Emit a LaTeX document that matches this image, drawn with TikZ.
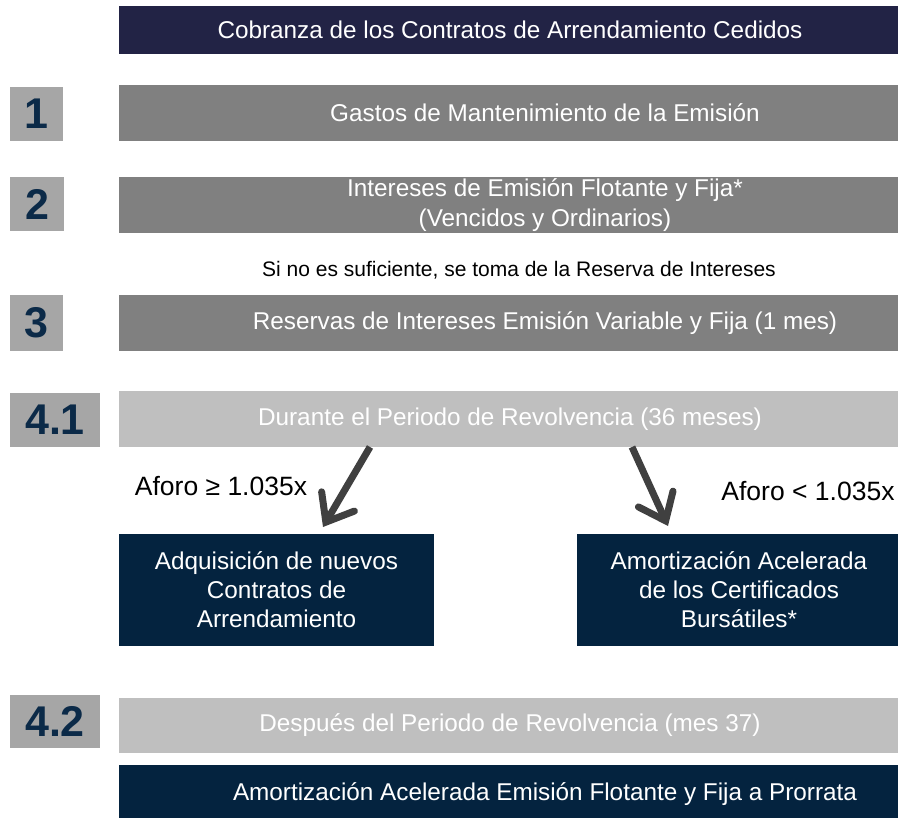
\documentclass[tikz,border=0pt]{standalone}
\usepackage{fontspec}
\setmainfont{Liberation Sans}
\usetikzlibrary{arrows.meta}
\definecolor{topnavy}{HTML}{222345}
\definecolor{midgray}{HTML}{808080}
\definecolor{sqgray}{HTML}{A6A6A6}
\definecolor{lightgraybox}{HTML}{BFBFBF}
\definecolor{darkblue}{HTML}{04233F}
\definecolor{numblue}{HTML}{0B2A48}
\definecolor{arrowgray}{HTML}{404040}
\begin{document}
\begin{tikzpicture}[x=1pt,y=-1pt,
  box/.style={inner sep=0pt, outer sep=0pt, anchor=north west, text=white,
    font=\fontsize{24.3}{29}\selectfont, align=center},
  numsq/.style={fill=sqgray, inner sep=0pt, outer sep=0pt, anchor=north west,
    text=numblue, font=\fontsize{43}{43}\selectfont\bfseries},
  note/.style={inner sep=0pt, text=black, font=\fontsize{21}{25}\selectfont},
  aforo/.style={inner sep=0pt, text=black, font=\fontsize{26.5}{30}\selectfont},
  flowarrow/.style={draw=arrowgray, line width=7pt,
    -{Straight Barb[length=24pt,width=38pt,line cap=round]}}
]
\useasboundingbox (0,0) rectangle (898,818);

% header
\node[box, fill=topnavy, minimum width=782pt, minimum height=48pt] (top) at (119,6)
  {Cobranza de los Contratos de Arrendamiento Cedidos};

% step 1
\node[numsq, minimum width=53pt, minimum height=54pt] (s1) at (10,87) {1};
\node[box, fill=midgray, minimum width=852pt, minimum height=56pt] (b1) at (119,85)
  {Gastos de Mantenimiento de la Emisión};

% step 2
\node[numsq, minimum width=54pt, minimum height=54pt] (s2) at (10,177) {2};
\node[box, fill=midgray, minimum width=852pt, minimum height=56pt,
  font=\fontsize{24.3}{30}\selectfont] (b2) at (119,177)
  {Intereses de Emisión Flotante y Fija*\\(Vencidos y Ordinarios)};

% note
\node[note] (nota) at (519,270) {Si no es suficiente, se toma de la Reserva de Intereses};

% step 3
\node[numsq, minimum width=53pt, minimum height=56pt] (s3) at (10,295) {3};
\node[box, fill=midgray, minimum width=852pt, minimum height=56pt] (b3) at (119,295)
  {Reservas de Intereses Emisión Variable y Fija (1 mes)};

% step 4.1
\node[numsq, minimum width=90pt, minimum height=54pt] (s41) at (10,393) {4.1};
\node[box, fill=lightgraybox, minimum width=782pt, minimum height=56pt] (b41) at (119,391)
  {Durante el Periodo de Revolvencia (36 meses)};

\node[box, fill=darkblue, minimum width=315pt, minimum height=112pt] (left) at (119,534)
  {Adquisición de nuevos\\Contratos de\\Arrendamiento};
\node[box, fill=darkblue, minimum width=324pt, minimum height=112pt] (right) at (577,534)
  {Amortización Acelerada\\de los Certificados\\Bursátiles*};

\node[aforo] (lab1) at (221,486) {Aforo ≥ 1.035x};
\node[aforo] (lab2) at (808,491) {Aforo < 1.035x};

\coordinate (a1s) at (370,447);
\coordinate (a1e) at (323,527);
\coordinate (a2s) at (632,447);
\coordinate (a2e) at (668,526);
\draw[flowarrow] (a1s) -- (a1e);
\draw[flowarrow] (a2s) -- (a2e);

% step 4.2
\node[numsq, minimum width=90pt, minimum height=53pt] (s42) at (10,695) {4.2};
\node[box, fill=lightgraybox, minimum width=782pt, minimum height=55pt] (b42) at (119,698)
  {Después del Periodo de Revolvencia (mes 37)};
\node[box, fill=darkblue, minimum width=852pt, minimum height=58pt] (fin) at (119,765)
  {Amortización Acelerada Emisión Flotante y Fija a Prorrata};
\end{tikzpicture}
\end{document}
